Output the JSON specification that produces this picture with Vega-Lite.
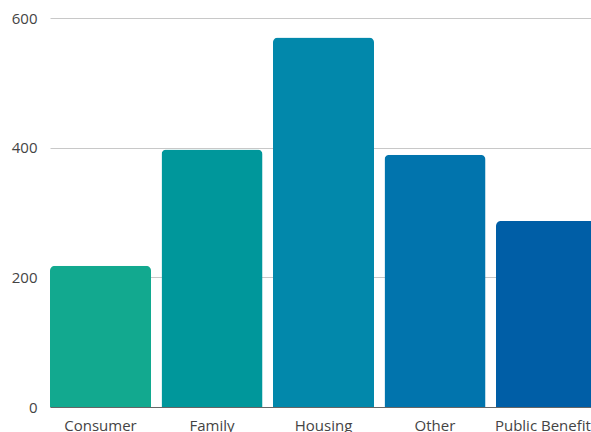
{
  "$schema": "https://vega.github.io/schema/vega-lite/v6.json",
  "autosize": "none",
  "padding": {"left": 50, "top": 18, "right": 0, "bottom": 25},
  "width": 541,
  "height": 389,
  "background": "white",
  "config": {
    "view": {"stroke": null},
    "font": "Open Sans"
  },
  "data": {
    "values": [
      {"category": "Consumer", "value": 218, "color": "#12A98F"},
      {"category": "Family", "value": 397, "color": "#00979B"},
      {"category": "Housing", "value": 570, "color": "#0288AB"},
      {"category": "Other", "value": 389, "color": "#0174AD"},
      {"category": "Public Benefits", "value": 287, "color": "#005EA6"}
    ]
  },
  "mark": {"type": "bar", "cornerRadiusTopLeft": 5, "cornerRadiusTopRight": 5},
  "encoding": {
    "x": {
      "field": "category",
      "type": "nominal",
      "sort": null,
      "scale": {"range": [0, 547], "paddingInner": 0.094, "paddingOuter": 0},
      "axis": {
        "title": null,
        "labelAngle": 0,
        "labelFontSize": 15,
        "labelColor": "#444444",
        "labelPadding": 11,
        "labelLimit": 0,
        "ticks": false,
        "domain": true,
        "domainColor": "#666666",
        "domainWidth": 1
      }
    },
    "y": {
      "field": "value",
      "type": "quantitative",
      "scale": {"domain": [0, 600]},
      "axis": {
        "title": null,
        "values": [0, 200, 400, 600],
        "labelFontSize": 15,
        "labelColor": "#444444",
        "labelPadding": 13,
        "ticks": false,
        "domain": false,
        "gridColor": "#C8C8C8",
        "gridWidth": 1
      }
    },
    "color": {"field": "color", "type": "nominal", "scale": null, "legend": null}
  }
}
